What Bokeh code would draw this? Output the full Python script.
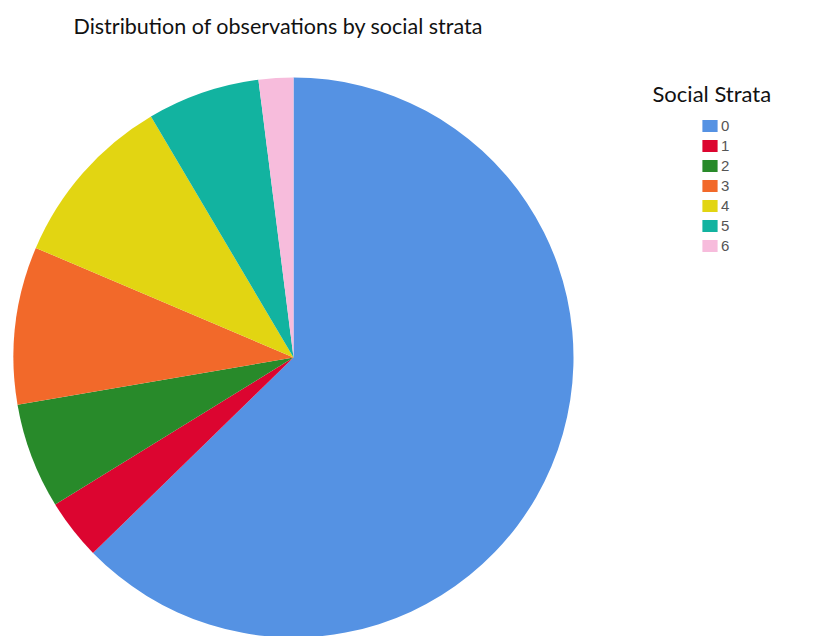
import numpy as np
from bokeh.plotting import figure
from bokeh.models import Label, Legend, LegendItem, Range1d
from bokeh.embed import file_html
from bokeh.resources import INLINE

categories = ["0", "1", "2", "3", "4", "5", "6"]
shares = [62.7, 3.5, 6.1, 9.1, 10.1, 6.5, 2.0]
colors = ["#5592E3", "#DC0530", "#288A2A", "#F2692A", "#E2D512", "#12B3A0", "#F7BCDC"]

W, H = 814, 636
p = figure(width=W, height=H, output_backend="svg", toolbar_location=None,
           x_range=Range1d(0, W), y_range=Range1d(0, H), min_border=0)
p.axis.visible = False
p.grid.visible = False
p.outline_line_color = None
p.background_fill_color = "white"

vals = np.array(shares, dtype=float)
frac = vals / vals.sum()
cum = np.concatenate([[0], np.cumsum(frac)])
start = np.pi / 2 - 2 * np.pi * cum[:-1]
end = np.pi / 2 - 2 * np.pi * cum[1:]

cx, cy, r = 293, H - 357, 280
items = []
for i, c in enumerate(categories):
    rr = p.wedge(x=cx, y=cy, radius=r, start_angle=start[i], end_angle=end[i],
                 direction="clock", fill_color=colors[i], line_color=None)
    items.append(LegendItem(label=c, renderers=[rr]))

legend = Legend(items=items, location=(700, H - 254), padding=0, margin=0,
                border_line_color=None, background_fill_alpha=0,
                glyph_width=19, glyph_height=15, label_height=18, spacing=2,
                label_standoff=2, label_text_font="Liberation Sans",
                label_text_font_size="15px", label_text_color="#555555")
p.add_layout(legend, "center")

p.add_layout(Label(x=73, y=H - 38, x_units="screen", y_units="screen",
                   text="Distribution of observations by social strata",
                   text_font="Lato", text_font_size="21.5px", text_color="#111111"))
p.add_layout(Label(x=652, y=H - 106, x_units="screen", y_units="screen",
                   text="Social Strata",
                   text_font="Lato", text_font_size="22px", text_color="#111111"))

open("out.html", "w").write(file_html(p, INLINE))
